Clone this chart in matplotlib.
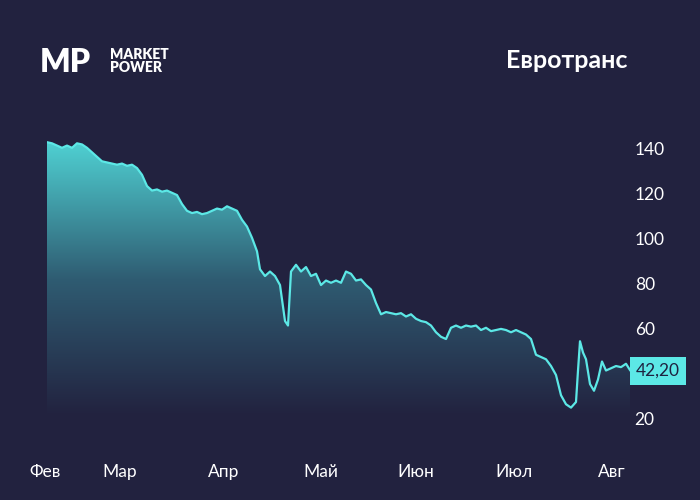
import numpy as np
import matplotlib.pyplot as plt
from matplotlib.patches import Polygon
from matplotlib.colors import LinearSegmentedColormap

# trading-day positions and close prices
days = [47, 52, 57, 62, 67, 72, 77, 82, 87, 92, 97, 102, 107, 112, 117, 122, 127, 132, 137, 142,
        147, 152, 157, 162, 167, 172, 177, 182, 187, 192, 197, 202, 207, 212, 217, 222, 227, 232, 237, 242,
        247, 252, 257, 260, 265, 270, 275, 280, 285, 288, 291, 296, 301, 306, 311, 316, 321, 326, 331, 336,
        341, 346, 351, 356, 361, 366, 371, 376, 381, 386, 391, 396, 401, 406, 411, 416, 421, 426, 431, 436,
        441, 446, 451, 456, 461, 466, 471, 476, 481, 486, 491, 496, 501, 506, 511, 516, 521, 526, 531, 536,
        541, 546, 551, 556, 561, 566, 571, 576, 578, 580, 583, 586, 590, 594, 598, 602, 606, 611, 616, 621,
        626, 630]
prices = [143.5, 143, 142, 141, 142, 141, 143, 142.5, 141, 139, 137, 135, 134.5, 134, 133.5, 134, 133, 133.5, 132, 129,
          124, 122, 122.5, 121.5, 122, 121, 120, 116, 113, 112, 112.5, 111.5, 112, 113, 114, 113.5, 115, 114, 113, 109,
          106, 101, 95, 87, 84, 86, 84, 80, 64, 62, 86, 89, 86, 88, 84, 85, 80, 82, 81, 82,
          81, 86, 85, 82, 82.5, 80, 78, 72, 67, 68, 67.5, 67, 67.5, 66, 67, 65, 64, 63.5, 62, 59,
          57, 56, 61, 62, 61, 62, 61.5, 62, 60, 61, 59.5, 60, 60.5, 60, 59, 60, 59, 58, 56, 49,
          48, 47, 44, 40, 31, 27, 25.5, 28, 42, 55, 50, 47, 36, 33, 38, 46, 42, 43, 44, 43.5,
          45, 42.2]
month_labels = ['Фев', 'Мар', 'Апр', 'Май', 'Июн', 'Июл', 'Авг']
month_pos = [45, 120, 224, 321, 416, 514, 612]
yticks = [20, 60, 80, 100, 120, 140]
last_label = '42,20'

bg = '#22223f'
cyan = '#5ce8e6'
plt.rcParams['font.family'] = ['Lato', 'DejaVu Sans']

fig = plt.figure(figsize=(7, 5), dpi=100, facecolor=bg)
ax = fig.add_axes([47 / 700, 1 - 420 / 500, (630 - 47) / 700, (420 - 135) / 500])
ax.set_facecolor(bg)
ax.set_xlim(47, 630)
ax.set_ylim(20, 146.7)

# gradient fill under the line
base = 22
grad = np.linspace(0, 1, 256).reshape(-1, 1)
cmap = LinearSegmentedColormap.from_list('g', [bg, '#2f5c72', '#4fd0d2'])
im = ax.imshow(grad, cmap=cmap, aspect='auto', origin='lower',
               extent=[47, 630, base, max(prices)], zorder=1)
poly = Polygon(list(zip(days, prices)) + [(days[-1], base), (days[0], base)],
               closed=True, facecolor='none', edgecolor='none')
ax.add_patch(poly)
im.set_clip_path(poly)
ax.plot(days, prices, color=cyan, lw=1.6, zorder=3)

for s in ax.spines.values():
    s.set_visible(False)
ax.set_xticks([])
ax.set_yticks([])

for v in yticks:
    ax.text(1.008, (v - 20) / (146.7 - 20), str(v), transform=ax.transAxes,
            color='white', fontsize=12.5, va='center', ha='left')
for lab, p in zip(month_labels, month_pos):
    fig.text(p / 700, 1 - 472 / 500, lab, color='white', fontsize=12.5, ha='center', va='center')

fig.text(636 / 700, 1 - 371 / 500, last_label, color='#1e2240', fontsize=12.5, ha='left', va='center',
         bbox=dict(boxstyle='square,pad=0.35', fc=cyan, ec='none'))

fig.text(628 / 700, 1 - 61 / 500, 'Евротранс', color='white', fontsize=18, fontweight='bold',
         ha='right', va='center')
fig.text(40 / 700, 1 - 62 / 500, 'MP', color='white', fontsize=23, fontweight='heavy',
         ha='left', va='center')
fig.text(110 / 700, 1 - 61 / 500, 'MARKET\nPOWER', color='white', fontsize=10, fontweight='heavy',
         ha='left', va='center', linespacing=0.95)

fig.savefig('out.png', dpi=100, facecolor=bg)
